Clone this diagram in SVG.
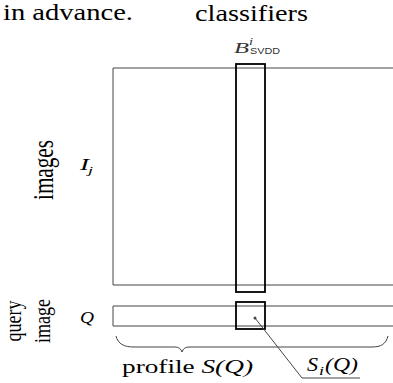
<svg xmlns="http://www.w3.org/2000/svg" width="393" height="383" viewBox="0 0 393 383">
<style>
text{font-family:"Liberation Serif","DejaVu Serif","Times New Roman",serif;fill:#000}
text.sans{font-family:"Liberation Sans","DejaVu Sans",sans-serif}
.it{font-style:italic}
.thin{fill:none;stroke:#444;stroke-width:1}
.thick{fill:none;stroke:#000;stroke-width:1.8}
</style>
<rect width="393" height="383" fill="#fff"/>
<g id="caption">
<text x="3" y="20" font-size="23" textLength="130" lengthAdjust="spacingAndGlyphs">in advance.</text>
</g>
<g id="classifiers-label">
<text x="195" y="21" font-size="23" textLength="113" lengthAdjust="spacingAndGlyphs">classifiers</text>
<text class="it" x="234" y="53" font-size="15" textLength="15" lengthAdjust="spacingAndGlyphs" style="fill:#333">B</text>
<text class="it" x="249" y="45" font-size="11" textLength="4" lengthAdjust="spacingAndGlyphs" style="fill:#333">i</text>
<text class="sans" x="250" y="54" font-size="8.5" textLength="30" lengthAdjust="spacingAndGlyphs" style="fill:#333">SVDD</text>
</g>
<g id="images">
<path class="thin" d="M393,68 H113 V285 H393"/>
<text transform="translate(53,200) scale(1.4,1) rotate(-90)" font-size="21" textLength="60" lengthAdjust="spacingAndGlyphs">images</text>
<text class="it" x="80" y="170" font-size="16" textLength="9" lengthAdjust="spacingAndGlyphs">I</text>
<text class="it" x="88" y="174" font-size="11" textLength="5" lengthAdjust="spacingAndGlyphs">j</text>
</g>
<g id="classifier-column">
<rect class="thick" x="236" y="64" width="29" height="228"/>
</g>
<g id="query">
<path class="thin" d="M393,306 H113 V326 H393"/>
<rect class="thick" x="236" y="302" width="29" height="27"/>
<circle cx="255" cy="318" r="1.5" fill="#444"/>
<text transform="translate(21,321) scale(1.3,1) rotate(-90)" font-size="18" text-anchor="middle">query</text>
<text transform="translate(50,321) scale(1.3,1) rotate(-90)" font-size="18" text-anchor="middle">image</text>
<text class="it" x="80" y="323" font-size="17" textLength="14" lengthAdjust="spacingAndGlyphs">Q</text>
</g>
<g id="connectors">
<path class="thin" d="M116,336 C118,344 124,347 134,347 L175,347 C179,347 181,349 182,352 C183,349 185,347 189,347 L372,347 C381,347 386,344 388,336"/>
<path class="thin" d="M255,318 L302,378 H360"/>
</g>
<g id="profile-label">
<text x="122" y="373" font-size="18" textLength="131" lengthAdjust="spacingAndGlyphs">profile <tspan class="it">S(Q)</tspan></text>
</g>
<g id="si-label">
<text class="it" x="307" y="371" font-size="18" textLength="11" lengthAdjust="spacingAndGlyphs">S</text>
<text class="it" x="319" y="375" font-size="13" textLength="5" lengthAdjust="spacingAndGlyphs">i</text>
<text class="it" x="325" y="371" font-size="18" textLength="33" lengthAdjust="spacingAndGlyphs">(Q)</text>
</g>
</svg>
